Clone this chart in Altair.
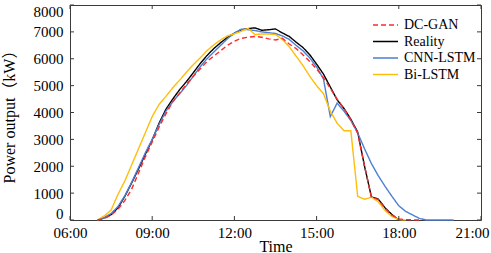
import altair as alt
import pandas as pd

times = ["07:00","07:15","07:30","07:45","08:00","08:15","08:30","08:45",
         "09:00","09:15","09:30","09:45","10:00","10:15","10:30","10:45",
         "11:00","11:15","11:30","11:45","12:00","12:15","12:30","12:45",
         "13:00","13:15","13:30","13:45","14:00","14:15","14:30","14:45",
         "15:00","15:15","15:30","15:45","16:00","16:15","16:30","16:45",
         "17:00","17:15","17:30","17:45","18:00","18:15","18:30","18:45",
         "19:00","19:15","19:30","19:45","20:00"]

reality = [0, 80, 200, 450, 880, 1380, 1900, 2450, 2980, 3600, 4120, 4500,
           4850, 5150, 5480, 5820, 6120, 6380, 6600, 6800, 6950, 7080, 7120, 7150,
           7060, 7080, 7110, 6960, 6830, 6620, 6420, 6150, 5800, 5430, 4950, 4470,
           4150, 3750, 3270, 2000, 860, 780, 450, 200, 0]

dc_gan = [0, 50, 180, 400, 720, 1150, 1750, 2350, 2900, 3450, 3950, 4400,
          4720, 5050, 5350, 5620, 5900, 6100, 6300, 6500, 6650, 6760, 6800, 6830,
          6800, 6740, 6700, 6760, 6550, 6380, 6150, 5900, 5620, 5300, 4900, 4500,
          4150, 3720, 3230, 2000, 850, 760, 430, 180, 40, 15, 5, 0]

cnn_lstm = [0, 90, 240, 500, 900, 1400, 1950, 2500, 3000, 3550, 4050, 4400,
            4700, 5000, 5350, 5700, 6000, 6250, 6500, 6750, 6950, 7100, 7080, 7050,
            7000, 6970, 6940, 6850, 6720, 6500, 6300, 6030, 5700, 5250, 3850, 4350,
            4050, 3700, 3240, 2650, 2100, 1650, 1250, 880, 530, 320, 190, 60,
            0, 0, 0, 0, 0]

bi_lstm = [0, 150, 370, 950, 1450, 2050, 2650, 3250, 3850, 4300, 4600, 4920,
           5200, 5500, 5780, 6030, 6300, 6520, 6700, 6850, 6930, 7020, 7130, 6900,
           6920, 6920, 6900, 6720, 6450, 6100, 5750, 5350, 5000, 4700, 4050, 3600,
           3320, 3320, 880, 770, 850, 680, 350, 130, 20, 0]

series_order = ["DC-GAN", "Reality", "CNN-LSTM", "Bi-LSTM"]
series_colors = ["#FF2A2A", "#000000", "#4E7FD2", "#FFBE0A"]
series_dash = [[5, 3], [1, 0], [1, 0], [1, 0]]

x_ticks = [6, 9, 12, 15, 18, 21]
y_ticks = [0, 1000, 2000, 3000, 4000, 5000, 6000, 7000, 8000]

def to_hour(s):
    h, m = s.split(":")
    return int(h) + int(m) / 60.0

rows = []
# draw order: Reality, CNN-LSTM, Bi-LSTM, DC-GAN (on top)
for name, vals in [("Reality", reality), ("CNN-LSTM", cnn_lstm),
                   ("Bi-LSTM", bi_lstm), ("DC-GAN", dc_gan)]:
    for i, (t, v) in enumerate(zip(times, vals)):
        rows.append({"series": name, "hour": to_hour(t), "value": v, "idx": i})
df = pd.DataFrame(rows)

W, H = 411, 215
FONT = "Liberation Serif, Times New Roman, Noto Sans CJK SC, serif"
FRAME = "#3a3a3a"

xscale = alt.Scale(domain=[6, 21], nice=False, zero=False)
yscale = alt.Scale(domain=[0, 8000], nice=False)

xaxis = alt.Axis(values=x_ticks, title="Time", ticks=False, domain=False,
                 grid=False, labelPadding=5, labelFlush=False,
                 labelExpr="(datum.value < 10 ? '0' : '') + datum.value + ':00'",
                 labelOffset=alt.ExprRef("datum.value == 21 ? -9 : 0"),
                 titleY=26, titleBaseline="middle")
yaxis = alt.Axis(values=y_ticks, title="Power output（kW）", ticks=False,
                 domain=False, grid=False, labelPadding=7, format="d",
                 labelFlush=True, labelFlushOffset=1,
                 titleX=-61, titleY=H / 2, titleBaseline="middle",
                 titleAlign="center")

lines = alt.Chart(df).mark_line(strokeWidth=1.4).encode(
    x=alt.X("hour:Q", scale=xscale, axis=xaxis),
    y=alt.Y("value:Q", scale=yscale, axis=yaxis),
    color=alt.Color("series:N", scale=alt.Scale(domain=series_order, range=series_colors),
                    legend=alt.Legend(title=None)),
    strokeDash=alt.StrokeDash("series:N",
                              scale=alt.Scale(domain=series_order, range=series_dash),
                              legend=alt.Legend(title=None)),
    detail="series:N",
    order="idx:Q",
)

dfx = pd.DataFrame({"hour": x_ticks})
dfy = pd.DataFrame({"value": y_ticks})

bottom_ticks = alt.Chart(dfx).mark_rule(color=FRAME, strokeWidth=1).encode(
    x=alt.X("hour:Q", scale=xscale, axis=xaxis), y=alt.value(H), y2=alt.value(H - 4))
top_ticks = alt.Chart(dfx).mark_rule(color=FRAME, strokeWidth=1).encode(
    x=alt.X("hour:Q", scale=xscale, axis=xaxis), y=alt.value(0), y2=alt.value(4))
left_ticks = alt.Chart(dfy).mark_rule(color=FRAME, strokeWidth=1).encode(
    y=alt.Y("value:Q", scale=yscale, axis=yaxis), x=alt.value(0), x2=alt.value(4))
right_ticks = alt.Chart(dfy).mark_rule(color=FRAME, strokeWidth=1).encode(
    y=alt.Y("value:Q", scale=yscale, axis=yaxis), x=alt.value(W - 4), x2=alt.value(W))

chart = alt.layer(lines, bottom_ticks, top_ticks, left_ticks, right_ticks).properties(
    width=W, height=H,
    autosize="none",
    padding={"left": 70, "top": 5, "right": 10, "bottom": 33},
).configure_view(
    stroke=FRAME, strokeWidth=1
).configure_axis(
    labelFont=FONT, titleFont=FONT, labelFontSize=15, titleFontSize=16,
    labelColor="#000", titleColor="#000", titleFontWeight="normal",
).configure_legend(
    orient="none", legendX=302, legendY=13, padding=0,
    symbolType="stroke", symbolSize=625, symbolStrokeWidth=1.5,
    labelFont=FONT, labelFontSize=14, labelColor="#000", labelOffset=5,
    clipHeight=14, rowPadding=2.5, labelLimit=200,
)

chart.save("out.html", embed_options={"renderer": "svg", "actions": False})
